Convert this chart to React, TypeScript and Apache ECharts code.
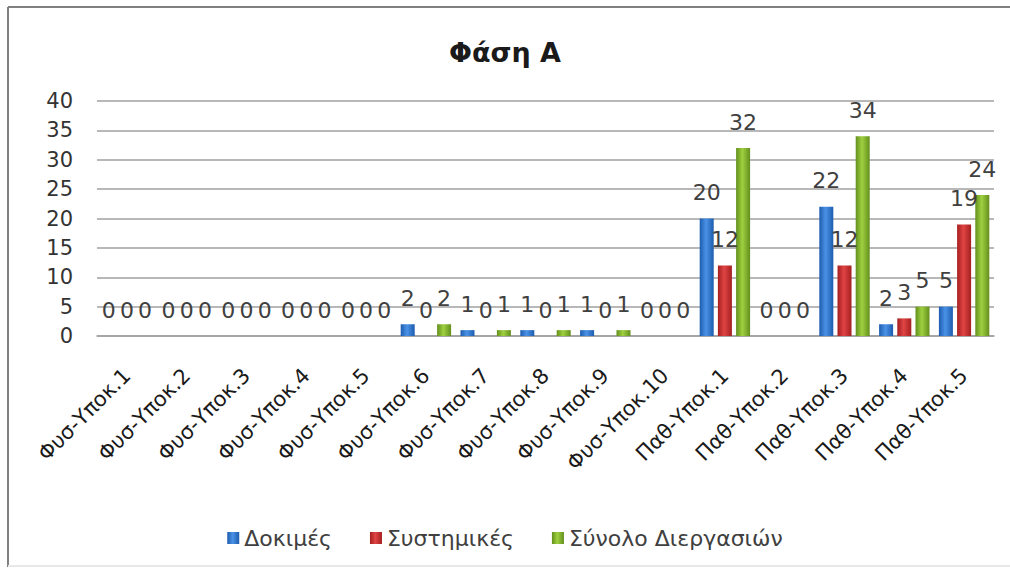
import React, { useEffect, useRef } from "react";
import * as echarts from "echarts";

const categories = [
  "Φυσ-Υποκ.1", "Φυσ-Υποκ.2", "Φυσ-Υποκ.3", "Φυσ-Υποκ.4", "Φυσ-Υποκ.5",
  "Φυσ-Υποκ.6", "Φυσ-Υποκ.7", "Φυσ-Υποκ.8", "Φυσ-Υποκ.9", "Φυσ-Υποκ.10",
  "Παθ-Υποκ.1", "Παθ-Υποκ.2", "Παθ-Υποκ.3", "Παθ-Υποκ.4", "Παθ-Υποκ.5",
];
const dokimes = [0, 0, 0, 0, 0, 2, 1, 1, 1, 0, 20, 0, 22, 2, 5];
const systimikes = [0, 0, 0, 0, 0, 0, 0, 0, 0, 0, 12, 0, 12, 3, 19];
const synolo = [0, 0, 0, 0, 0, 2, 1, 1, 1, 0, 32, 0, 34, 5, 24];
const seriesNames = ["Δοκιμές", "Συστημικές", "Σύνολο Διεργασιών"];
const yTicks = { min: 0, max: 40, interval: 5 };

const FONT = "DejaVu Sans";

function grad(edge: string, mid: string) {
  return new echarts.graphic.LinearGradient(0, 0, 1, 0, [
    { offset: 0, color: edge },
    { offset: 0.45, color: mid },
    { offset: 1, color: edge },
  ]);
}

export default function App() {
  const ref = useRef<HTMLDivElement>(null);
  useEffect(() => {
    if (!ref.current) return;
    const chart = echarts.init(ref.current, undefined, { renderer: "svg" });
    const label = {
      show: true,
      position: "top",
      distance: 15,
      fontFamily: FONT,
      fontSize: 22,
      color: "#404040",
    };
    const mk = (name: string, data: number[], edge: string, mid: string) => ({
      name,
      type: "bar",
      data,
      barWidth: 14,
      barGap: "30%",
      itemStyle: { color: grad(edge, mid) },
      label,
    });
    chart.setOption({
      animation: false,
      backgroundColor: "#ffffff",
      title: {
        text: "Φάση Α",
        left: "center",
        top: 34,
        textStyle: { fontFamily: FONT, fontSize: 27, fontWeight: "bold", color: "#1a1a1a" },
      },
      legend: {
        bottom: 20,
        left: "center",
        itemWidth: 12,
        itemHeight: 12,
        itemGap: 38,
        icon: "rect",
        textStyle: { fontFamily: FONT, fontSize: 22, color: "#404040" },
        data: seriesNames,
      },
      grid: { left: 97, right: 16, top: 101, bottom: 238, containLabel: false },
      xAxis: {
        type: "category",
        data: categories,
        axisTick: { show: false },
        axisLine: { show: true, lineStyle: { color: "#a0a0a0", width: 1.5 } },
        axisLabel: {
          rotate: 45,
          interval: 0,
          margin: 36,
          fontFamily: FONT,
          fontSize: 21,
          color: "#1a1a1a",
        },
      },
      yAxis: {
        type: "value",
        min: yTicks.min,
        max: yTicks.max,
        interval: yTicks.interval,
        axisLine: { show: false },
        axisTick: { show: false },
        splitLine: { lineStyle: { color: "#a0a0a0", width: 1.5 } },
        axisLabel: { margin: 24, fontFamily: FONT, fontSize: 21, color: "#333333" },
      },
      graphic: [
        { type: "line", shape: { x1: 8, y1: 7, x2: 1010, y2: 7 }, style: { stroke: "#808080", lineWidth: 2 } },
        { type: "line", shape: { x1: 8, y1: 7, x2: 8, y2: 567 }, style: { stroke: "#808080", lineWidth: 2 } },
        { type: "line", shape: { x1: 8, y1: 566, x2: 1010, y2: 566 }, style: { stroke: "#e8e8e8", lineWidth: 2 } },
      ],
      series: [
        mk(seriesNames[0], dokimes, "#1d5cae", "#4a92e6"),
        mk(seriesNames[1], systimikes, "#a51f1f", "#e04444"),
        mk(seriesNames[2], synolo, "#638f1c", "#9fd040"),
      ],
    });
    return () => chart.dispose();
  }, []);
  return (
    <div
      ref={ref}
      style={{ position: "fixed", left: 0, top: 0, width: 1010, height: 574 }}
    />
  );
}
